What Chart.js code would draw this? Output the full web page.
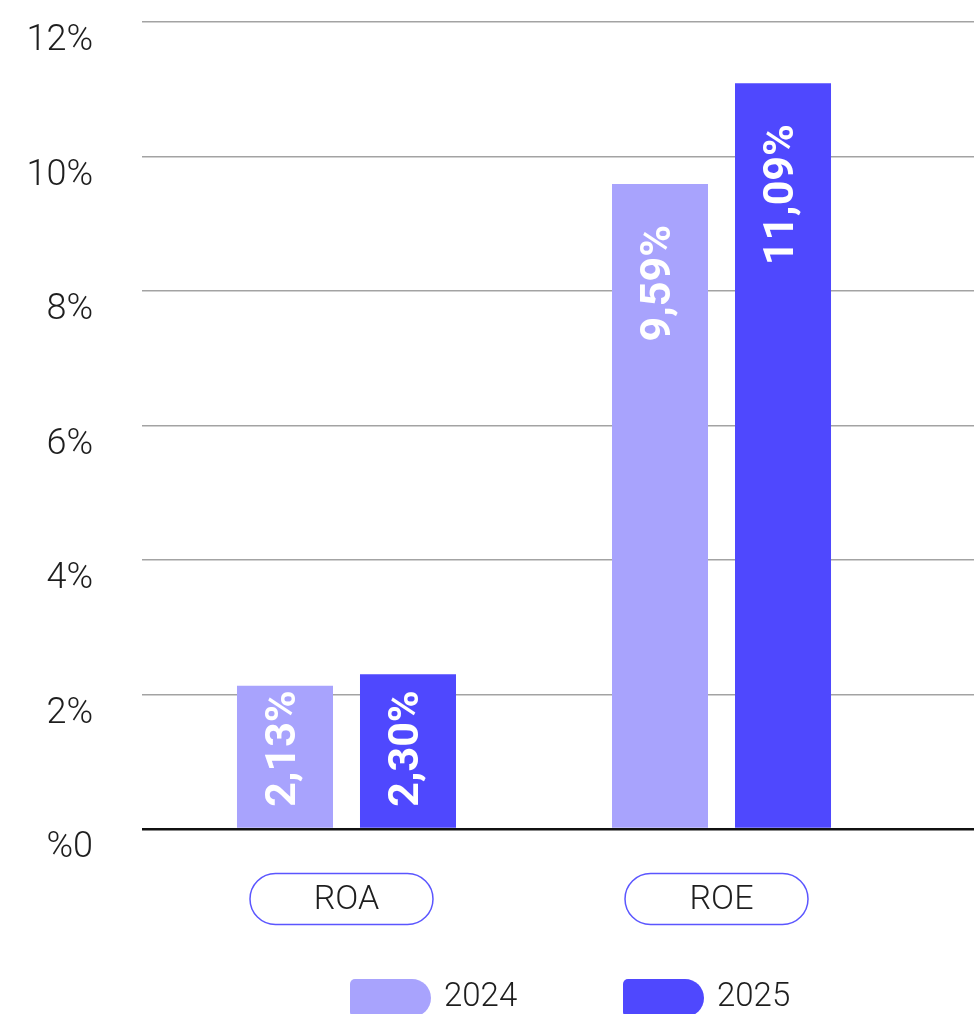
<!DOCTYPE html>
<html>
<head>
<meta charset="utf-8">
<title>ROA / ROE</title>
<script src="https://cdn.jsdelivr.net/npm/chart.js@4.4.1/dist/chart.umd.min.js"></script>
<style>
  html, body { margin: 0; padding: 0; background: #fff; }
  #chart { display: block; }
</style>
</head>
<body>
<canvas id="chart" width="974" height="1014"></canvas>
<script>
// data
const categories = ['ROA', 'ROE'];
const seriesNames = ['2024', '2025'];
const values2024 = [2.13, 9.59];
const values2025 = [2.30, 11.09];
const yTicks = [0, 2, 4, 6, 8, 10, 12];
const yTickLabels = ['%0', '2%', '4%', '6%', '8%', '10%', '12%'];

const colors = ['#a8a3fd', '#4f48fe'];
const FONT = "Roboto, 'DejaVu Sans', sans-serif";

function fmt(v) {
    return v.toFixed(2).replace('.', ',') + '%';
}

function toPoints(values) {
    return values.map((v, i) => ({ x: i, y: v }));
}

// white rotated value inside each bar
const valueLabels = {
    id: 'valueLabels',
    afterDatasetsDraw(chart) {
        const ctx = chart.ctx;
        ctx.save();
        ctx.font = `700 43px ${FONT}`;
        ctx.fillStyle = '#ffffff';
        ctx.textBaseline = 'middle';
        chart.data.datasets.forEach((ds, di) => {
            chart.getDatasetMeta(di).data.forEach((bar, i) => {
                const text = fmt(ds.data[i].y);
                const w = ctx.measureText(text).width;
                const h = bar.base - bar.y;
                ctx.save();
                ctx.translate(bar.x - 1, 0);
                ctx.rotate(-Math.PI / 2);
                if (h > w + 70) {
                    ctx.textAlign = 'right';
                    ctx.fillText(text, -(bar.y + 41), 0);
                } else {
                    ctx.textAlign = 'left';
                    ctx.fillText(text, -(bar.base - 21), 0);
                }
                ctx.restore();
            });
        });
        ctx.restore();
    }
};

// category pills under the groups + legend at the bottom
const pillsAndLegend = {
    id: 'pillsAndLegend',
    afterDraw(chart) {
        const ctx = chart.ctx;
        const xScale = chart.scales.x;
        ctx.save();

        categories.forEach((cat, i) => {
            const cx = xScale.getPixelForValue(i);
            ctx.beginPath();
            ctx.roundRect(cx - 5 - 91.5, 873.5, 183, 51, 25.5);
            ctx.fillStyle = '#ffffff';
            ctx.fill();
            ctx.lineWidth = 1.5;
            ctx.strokeStyle = '#5b56ff';
            ctx.stroke();

            ctx.fillStyle = '#1e1e1e';
            ctx.font = `300 34px ${FONT}`;
            ctx.textAlign = 'center';
            ctx.textBaseline = 'middle';
            ctx.fillText(cat, cx, 900);
        });

        chart.data.datasets.forEach((ds, i) => {
            const x = 350 + i * 273;
            ctx.beginPath();
            ctx.roundRect(x, 979, 81, 38, [5, 19, 19, 5]);
            ctx.fillStyle = ds.backgroundColor;
            ctx.fill();

            ctx.fillStyle = '#1e1e1e';
            ctx.font = `300 33px ${FONT}`;
            ctx.textAlign = 'left';
            ctx.textBaseline = 'middle';
            ctx.fillText(ds.label, x + 94, 998);
        });

        ctx.restore();
    }
};

new Chart(document.getElementById('chart'), {
    type: 'bar',
    data: {
        datasets: [
            { label: seriesNames[0], data: toPoints(values2024), backgroundColor: colors[0] },
            { label: seriesNames[1], data: toPoints(values2025), backgroundColor: colors[1] }
        ]
    },
    options: {
        responsive: false,
        animation: false,
        devicePixelRatio: 1,
        layout: { autoPadding: false, padding: { top: 22, right: 0, bottom: 185, left: 0 } },
        categoryPercentage: 0.656,
        barPercentage: 0.7805,
        plugins: {
            legend: { display: false },
            tooltip: { enabled: false }
        },
        scales: {
            x: {
                type: 'linear',
                display: false,
                offset: false,
                grid: { offset: false },
                min: -0.5453,
                max: 1.6733,
                afterBuildTicks: scale => {
                    scale.ticks = categories.map((c, i) => ({ value: i }));
                }
            },
            y: {
                min: 0,
                max: 12,
                border: { display: false },
                afterFit: scale => {
                    scale.width = 142;
                    scale.paddingTop = 0;
                    scale.paddingBottom = 0;
                },
                afterBuildTicks: scale => {
                    scale.ticks = yTicks.map(v => ({ value: v }));
                },
                grid: {
                    drawTicks: false,
                    color: c => c.tick && c.tick.value === 0 ? '#111111' : '#a3a3a3',
                    lineWidth: c => c.tick && c.tick.value === 0 ? 2.5 : 1.5
                },
                ticks: {
                    padding: 49,
                    labelOffset: 19,
                    color: '#1e1e1e',
                    font: { family: FONT, size: 36, weight: '300' },
                    callback: (value, index) => yTickLabels[index]
                }
            }
        }
    },
    plugins: [valueLabels, pillsAndLegend]
});
</script>
</body>
</html>
